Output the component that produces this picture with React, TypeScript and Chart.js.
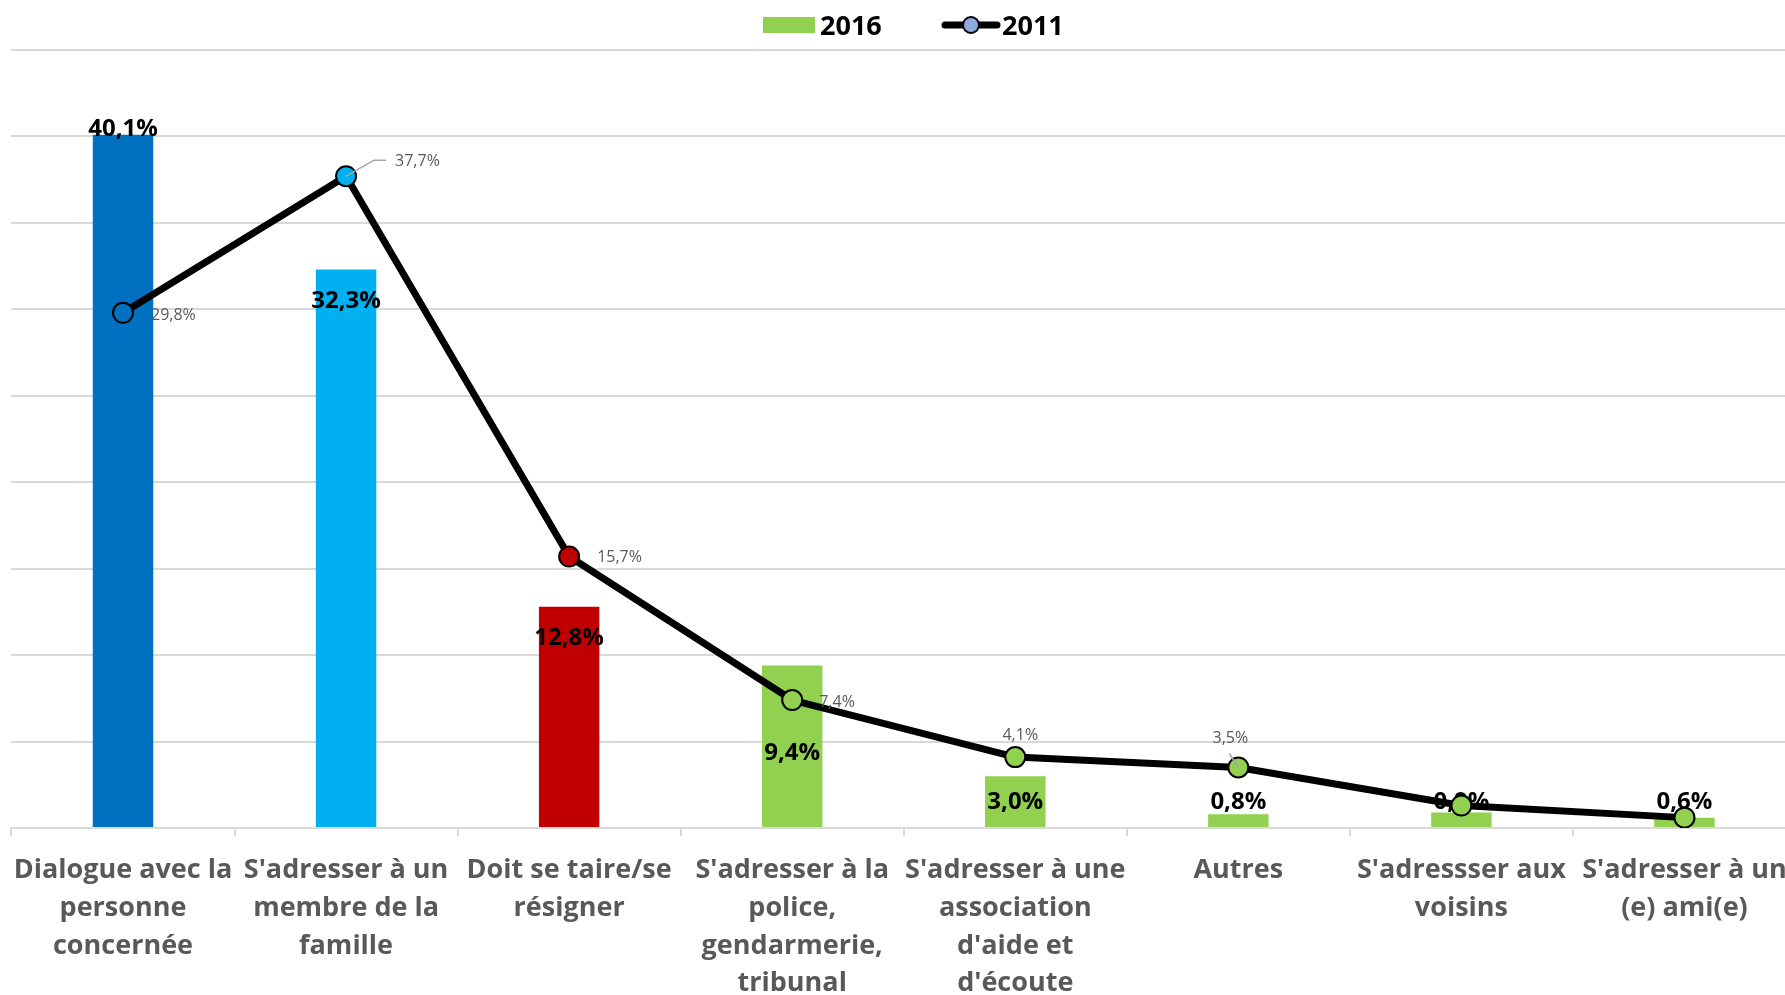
import React, { useEffect, useRef } from "react";
import { Chart, registerables } from "chart.js";

Chart.register(...registerables);

const categories: string[][] = [
  ["Dialogue avec la", "personne", "concernée"],
  ["S'adresser à un", "membre de la", "famille"],
  ["Doit se taire/se", "résigner"],
  ["S'adresser à la", "police,", "gendarmerie,", "tribunal"],
  ["S'adresser à une", "association", "d'aide et", "d'écoute"],
  ["Autres"],
  ["S'adressser aux", "voisins"],
  ["S'adresser à un", "(e) ami(e)"],
];

const values2016: number[] = [40.1, 32.3, 12.8, 9.4, 3.0, 0.8, 0.9, 0.6];
const values2011: number[] = [29.8, 37.7, 15.7, 7.4, 4.1, 3.5, 1.3, 0.6];

const barColors: string[] = ["#0070C0", "#00B0F0", "#C00000", "#92D050", "#92D050", "#92D050", "#92D050", "#92D050"];
const pointColors: string[] = ["#0070C0", "#00B0F0", "#C00000", "#92D050", "#92D050", "#92D050", "#92D050", "#92D050"];

// label placement (styling only)
const barLabelModes: string[] = ["top", "top", "top", "center", "center", "top", "top", "top"];
const barLabelDy: number[] = [-6, 32, 31, 7, 1, -12, -10, -15];
const lineLabelPlacement: ({ dx: number; dy: number; align: CanvasTextAlign; leader?: number[][] } | null)[] = [
  { dx: 28, dy: 3, align: "left" },
  { dx: 49, dy: -15, align: "left", leader: [[0, 0], [28, -16], [40, -16]] },
  { dx: 28, dy: 1, align: "left" },
  { dx: 27, dy: 2, align: "left" },
  { dx: 5, dy: -22, align: "center" },
  { dx: -8, dy: -29, align: "center", leader: [[0, 0], [-9, -14]] },
  null,
  null,
];

const CANVAS_SHIFT = -3;

const fmt = (v: number) => v.toFixed(1).replace(".", ",") + "%";

const labelsPlugin = {
  id: "customLabels",
  afterDatasetDraw(chart: any, args: any) {
    const ctx = chart.ctx;
    if (args.index === 0) {
      const meta = chart.getDatasetMeta(0);
      ctx.save();
      ctx.font = "bold 24px 'Open Sans'";
      ctx.fillStyle = "#000000";
      ctx.textAlign = "center";
      ctx.textBaseline = "middle";
      meta.data.forEach((el: any, i: number) => {
        const anchor = barLabelModes[i] === "center" ? (el.y + el.base) / 2 : el.y;
        ctx.fillText(fmt(values2016[i]), el.x, anchor + barLabelDy[i]);
      });
      ctx.restore();
    }
  },
  afterDatasetsDraw(chart: any) {
    const ctx = chart.ctx;
    const meta = chart.getDatasetMeta(1);
    ctx.save();
    ctx.font = "16px 'Open Sans'";
    ctx.fillStyle = "#595959";
    ctx.textBaseline = "middle";
    meta.data.forEach((el: any, i: number) => {
      const p = lineLabelPlacement[i];
      if (!p) return;
      if (p.leader) {
        ctx.strokeStyle = "#A6A6A6";
        ctx.lineWidth = 1.5;
        ctx.beginPath();
        p.leader.forEach((pt, k) => {
          if (k === 0) ctx.moveTo(el.x + pt[0], el.y + pt[1]);
          else ctx.lineTo(el.x + pt[0], el.y + pt[1]);
        });
        ctx.stroke();
      }
      ctx.textAlign = p.align;
      ctx.fillText(fmt(values2011[i]), el.x + p.dx, el.y + p.dy);
    });
    ctx.restore();
  },
  afterDraw(chart: any) {
    const ctx = chart.ctx;
    const ds0 = chart.data.datasets[0];
    const ds1 = chart.data.datasets[1];
    const o = -CANVAS_SHIFT;
    ctx.save();
    // 2016 item
    ctx.fillStyle = "#92D050";
    ctx.fillRect(763 + o, 17, 52, 16);
    ctx.font = "bold 27px 'Open Sans'";
    ctx.fillStyle = "#000000";
    ctx.textAlign = "left";
    ctx.textBaseline = "middle";
    ctx.fillText(ds0.label, 820 + o, 27);
    // 2011 item
    ctx.strokeStyle = "#000000";
    ctx.lineWidth = 7;
    ctx.lineCap = "round";
    ctx.beginPath();
    ctx.moveTo(945 + o, 25);
    ctx.lineTo(997 + o, 25);
    ctx.stroke();
    ctx.beginPath();
    ctx.arc(971 + o, 25, 8, 0, Math.PI * 2);
    ctx.fillStyle = "#8FAADC";
    ctx.fill();
    ctx.lineWidth = 2;
    ctx.stroke();
    ctx.fillStyle = "#000000";
    ctx.fillText(ds1.label, 1002 + o, 27);
    ctx.restore();
  },
};

export default function App() {
  const canvasRef = useRef<HTMLCanvasElement | null>(null);

  useEffect(() => {
    document.body.style.margin = "0";
    const chart = new Chart(canvasRef.current as HTMLCanvasElement, {
      type: "bar",
      data: {
        labels: categories as any,
        datasets: [
          {
            type: "bar",
            label: "2016",
            data: values2016,
            backgroundColor: barColors,
            categoryPercentage: 1,
            barPercentage: 0.271,
            order: 1,
          },
          {
            type: "line",
            label: "2011",
            data: values2011,
            borderColor: "#000000",
            borderWidth: 7,
            borderJoinStyle: "round",
            pointRadius: 10,
            pointHoverRadius: 10,
            pointBorderWidth: 2,
            pointBorderColor: "#000000",
            pointBackgroundColor: pointColors,
            tension: 0,
            order: 0,
          } as any,
        ],
      },
      options: {
        animation: false,
        responsive: false,
        maintainAspectRatio: false,
        devicePixelRatio: 1,
        layout: { padding: { top: 50, left: 11, right: 0, bottom: 0 } },
        plugins: {
          legend: { display: false },
          tooltip: { enabled: false },
        },
        scales: {
          x: {
            afterFit: (s: any) => {
              s.height = 167;
            },
            grid: {
              offset: true,
              drawOnChartArea: false,
              drawTicks: true,
              tickLength: 8,
              color: "#D9D9D9",
              lineWidth: 2,
            },
            border: { color: "#D9D9D9", width: 2 },
            ticks: {
              autoSkip: false,
              maxRotation: 0,
              minRotation: 0,
              padding: 16,
              color: "#595959",
              font: { family: "'Open Sans'", weight: "bold", size: 27, lineHeight: 1.393 },
            },
          },
          y: {
            min: 0,
            max: 45,
            afterFit: (s: any) => {
              s.width = 0;
            },
            ticks: { display: false, stepSize: 5 },
            border: { display: false },
            grid: { color: "#D9D9D9", lineWidth: 2, drawTicks: false },
          },
        },
      },
      plugins: [labelsPlugin],
    });
    return () => chart.destroy();
  }, []);

  return (
    <div style={{ position: "fixed", left: 0, top: 0, width: 1785, height: 995, overflow: "hidden", background: "#fff" }}>
      <canvas
        ref={canvasRef}
        width={1811}
        height={995}
        style={{ position: "absolute", left: CANVAS_SHIFT, top: 0, width: 1811, height: 995 }}
      />
    </div>
  );
}
